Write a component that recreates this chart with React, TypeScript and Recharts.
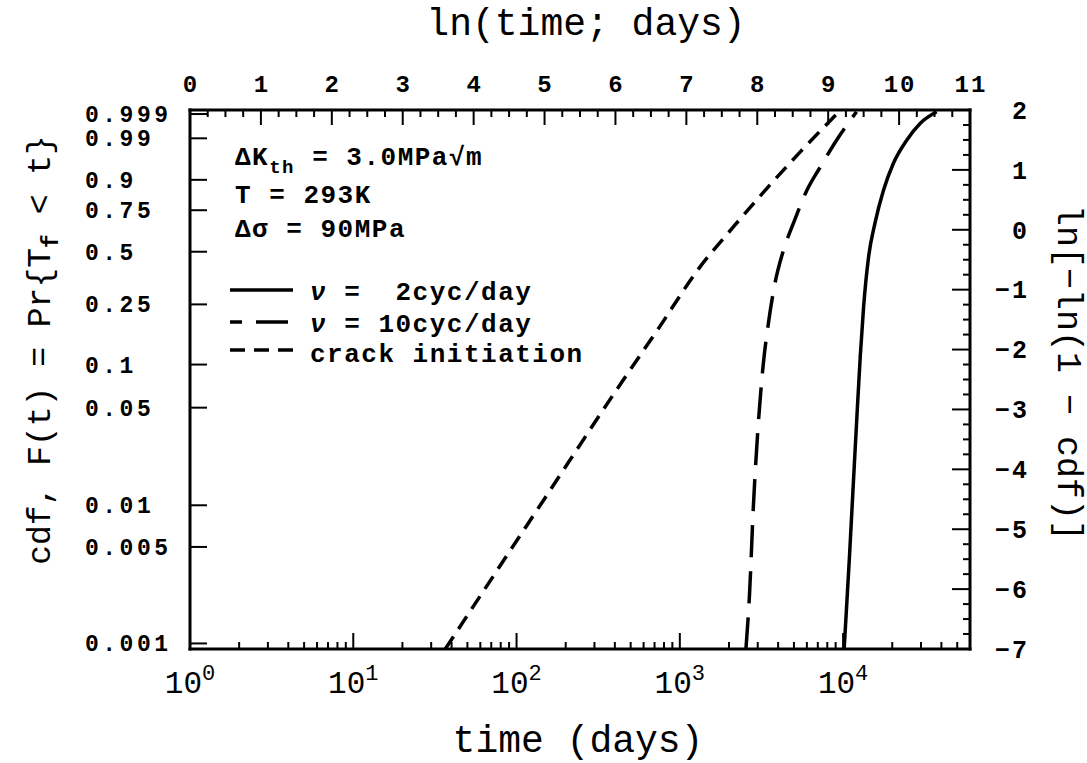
import React from 'react';
import { LineChart, Line, XAxis, YAxis, Legend, Label } from 'recharts';

// ---- data: x = ln(time; days) (top axis), y = ln[-ln(1 - cdf)] (right axis)
const cyc2LnTime = [9.225, 9.257, 9.3, 9.35, 9.4, 9.452, 9.5, 9.57, 9.66, 9.78, 9.92, 10.11, 10.3, 10.53];
const cyc2Weibull = [-7.0, -6.35, -5.46, -4.34, -3.23, -2.12, -1.28, -0.45, 0.11, 0.66, 1.11, 1.5, 1.78, 1.97];

const cyc10LnTime = [7.84, 7.89, 7.945, 8.015, 8.086, 8.157, 8.25, 8.37, 8.51, 8.7, 8.89, 9.12, 9.4];
const cyc10Weibull = [-7.0, -6.1, -4.62, -3.23, -2.23, -1.56, -0.89, -0.34, 0.11, 0.66, 1.05, 1.5, 1.97];

const crackLnTime = [3.6, 4.24, 5.0, 6.0, 6.6, 7.18, 7.65, 8.12, 8.59, 9.15];
const crackWeibull = [-7.0, -5.85, -4.49, -2.7, -1.66, -0.64, 0.03, 0.67, 1.28, 1.97];

const seriesNames = ['2cyc/day', '10cyc/day', 'crack initiation'];

// ---- tick labels
const topMajorTicks = [0, 1, 2, 3, 4, 5, 6, 7, 8, 9, 10, 11];
const rightMajorTicks = [-7, -6, -5, -4, -3, -2, -1, 0, 1, 2];
const bottomDecades = [0, 1, 2, 3, 4];
const cdfTickLabels = ['0.999', '0.99', '0.9', '0.75', '0.5', '0.25', '0.1', '0.05', '0.01', '0.005', '0.001'];

const X_DOMAIN = [0, 11];
const Y_DOMAIN = [-7, 2];

const zip = (xs: number[], ys: number[]) => xs.map((x, i) => ({ x, y: ys[i] }));
const cyc2Data = zip(cyc2LnTime, cyc2Weibull);
const cyc10Data = zip(cyc10LnTime, cyc10Weibull);
const crackData = zip(crackLnTime, crackWeibull);

const key = (v: number) => v.toFixed(5);

// top: majors + quarter minors
const topTicks: number[] = [];
topMajorTicks.forEach((t) => {
  topTicks.push(t);
  if (t < 11) [0.25, 0.5, 0.75].forEach((f) => topTicks.push(t + f));
});
const rightTicks: number[] = [];
rightMajorTicks.forEach((t) => {
  rightTicks.push(t);
  if (t < 2) [0.25, 0.5, 0.75].forEach((f) => rightTicks.push(t + f));
});
// bottom: log decade ticks in ln units
const bottomTicks: number[] = [];
const bottomMajor = new Map<string, number>();
bottomDecades.forEach((k) => {
  for (let m = 1; m <= 9; m++) {
    const v = Math.log(m * Math.pow(10, k));
    if (v <= 11 + 1e-9) {
      bottomTicks.push(v);
      if (m === 1) bottomMajor.set(key(v), k);
    }
  }
});
const leftTicks = cdfTickLabels.map((s) => Math.log(-Math.log(1 - parseFloat(s))));
const leftLabelMap = new Map<string, string>();
cdfTickLabels.forEach((s, i) => leftLabelMap.set(key(leftTicks[i]), s));

const MONO = '"Liberation Mono", "DejaVu Sans Mono", monospace';
const leftTickFont = { fontFamily: MONO, fontWeight: 700 as const, fontSize: 23, letterSpacing: 3.5 };
const topTickFont = { fontFamily: MONO, fontWeight: 700 as const, fontSize: 24, letterSpacing: 2 };
const rightTickFont = { fontFamily: MONO, fontWeight: 700 as const, fontSize: 25, letterSpacing: 2 };
const MAJOR = 17;
const MINOR = 7;

function TopTick(props: any) {
  const { x, y, payload } = props;
  const v = payload.value;
  const major = Math.abs(v - Math.round(v)) < 1e-6;
  return (
    <g>
      <line x1={x} y1={y} x2={x} y2={y + (major ? MAJOR - 2 : MINOR)} stroke="#000" strokeWidth={2} />
      {major && (
        <text x={x + 1} y={y - 18} textAnchor="middle" fill="#000" style={topTickFont}>
          {String(Math.round(v))}
        </text>
      )}
    </g>
  );
}

function BottomTick(props: any) {
  const { x, y, payload } = props;
  const k = bottomMajor.get(key(payload.value));
  const major = k !== undefined;
  return (
    <g>
      <line x1={x} y1={y} x2={x} y2={y - (major ? MAJOR - 1 : MINOR)} stroke="#000" strokeWidth={2} />
      {major && (
        <text x={x} y={y + 44} textAnchor="middle" fill="#000" style={{ fontFamily: MONO, fontSize: 31 }}>
          10
          <tspan dy={-13} style={{ fontSize: 22 }}>{String(k)}</tspan>
        </text>
      )}
    </g>
  );
}

function LeftTick(props: any) {
  const { x, y, payload } = props;
  const label = leftLabelMap.get(key(payload.value)) || '';
  return (
    <g>
      <line x1={x} y1={y} x2={x + MAJOR} y2={y} stroke="#000" strokeWidth={2} />
      <text x={x - 105} y={y} dy="0.35em" textAnchor="start" fill="#000" style={leftTickFont}>
        {label}
      </text>
    </g>
  );
}

function RightTick(props: any) {
  const { x, y, payload } = props;
  const v = payload.value;
  const major = Math.abs(v - Math.round(v)) < 1e-6;
  const txt = v < 0 ? '\u2212' + String(Math.abs(Math.round(v))) : String(Math.round(v));
  return (
    <g>
      <line x1={x} y1={y} x2={x - (major ? MAJOR + 1 : MINOR)} y2={y} stroke="#000" strokeWidth={2} />
      {major && (
        <text x={x + 59} y={y} dy="0.35em" textAnchor="end" fill="#000" style={rightTickFont}>
          {txt}
        </text>
      )}
    </g>
  );
}

const titleFont = { fontFamily: MONO, fontSize: 38 };

function TopTitle(props: any) {
  const vb = props.viewBox || { x: 190, y: 70, width: 780, height: 40 };
  return (
    <text x={vb.x + vb.width / 2 + 6} y={35} textAnchor="middle" fill="#000" style={titleFont}>
      ln(time; days)
    </text>
  );
}
function BottomTitle(props: any) {
  const vb = props.viewBox || { x: 190, y: 649, width: 780, height: 60 };
  return (
    <text x={vb.x + vb.width / 2 - 2} y={752} textAnchor="middle" fill="#000" style={titleFont}>
      time (days)
    </text>
  );
}
function LeftTitle() {
  const cx = 50;
  const cy = 350;
  return (
    <text
      x={cx}
      y={cy}
      textAnchor="middle"
      transform={`rotate(-90, ${cx}, ${cy})`}
      fill="#000"
      style={{ fontFamily: MONO, fontSize: 33, whiteSpace: 'pre' }}
    >
      cdf, F(t) = Pr{'{'}T
      <tspan dy={8} style={{ fontSize: 23, fontWeight: 700 }}>f</tspan>
      <tspan dy={-8}> &lt; t{'}'}</tspan>
    </text>
  );
}
function RightTitle() {
  const cx = 1058;
  const cy = 373;
  return (
    <text
      x={cx}
      y={cy}
      textAnchor="middle"
      transform={`rotate(90, ${cx}, ${cy})`}
      fill="#000"
      style={{ fontFamily: MONO, fontSize: 35, whiteSpace: 'pre' }}
    >
      {'ln[\u2212ln(1 \u2212 cdf)]'}
    </text>
  );
}

const LONG_DASH = '32 14';
const SHORT_DASH = '15 9';
const seriesDashes = [undefined, LONG_DASH, SHORT_DASH];

const LEG_LEFT = 215;
const LEG_TOP = 130;

function LegendBox() {
  const txt = { fontFamily: MONO, fontWeight: 700 as const, fontSize: 26, letterSpacing: 1.5, whiteSpace: 'pre' as const };
  const rows = [
    { lineY: 160, textY: 170, offset: 0, prefix: '=  ' },
    { lineY: 192, textY: 202, offset: 20, prefix: '= ' },
    { lineY: 220, textY: 232, offset: 0, prefix: '' },
  ];
  return (
    <svg width={420} height={260} style={{ overflow: 'visible' }}>
      <text x={20} y={35} fill="#000" style={txt}>
        {'\u0394K'}
        <tspan dy={8} style={{ fontSize: 19 }}>th</tspan>
        <tspan dy={-8}>{' = 3.0MPa\u221Am'}</tspan>
      </text>
      <text x={20} y={73} fill="#000" style={txt}>{'T = 293K'}</text>
      <text x={20} y={107} fill="#000" style={txt}>{'\u0394\u03C3 = 90MPa'}</text>
      {rows.map((r, i) => {
        const name = seriesNames[i];
        const isCyc = i < 2;
        return (
          <g key={i}>
            <line
              x1={15}
              y1={r.lineY}
              x2={78}
              y2={r.lineY}
              stroke="#000"
              strokeWidth={3.5}
              strokeDasharray={seriesDashes[i]}
              strokeDashoffset={r.offset}
            />
            <text x={95} y={r.textY} fill="#000" style={txt}>
              {isCyc ? (
                <>
                  <tspan style={{ fontStyle: 'italic' }}>{'\u03BD'}</tspan>
                  {' ' + r.prefix + name}
                </>
              ) : (
                name
              )}
            </text>
          </g>
        );
      })}
    </svg>
  );
}

const axisLineStyle = { stroke: '#000', strokeWidth: 3, strokeLinecap: 'square' as const };

export default function App() {
  return (
    <div style={{ position: 'absolute', left: 0, top: 0, background: '#fff' }}>
      <LineChart width={1087} height={763} margin={{ top: 70, right: 57, bottom: 54, left: 90 }}>
        <XAxis
          xAxisId="bottom"
          dataKey="x"
          type="number"
          orientation="bottom"
          domain={X_DOMAIN}
          allowDataOverflow
          ticks={bottomTicks}
          interval={0}
          height={60}
          tickSize={0}
          tickMargin={0}
          tickLine={false}
          axisLine={axisLineStyle}
          tick={(p: any) => <BottomTick {...p} />}
        >
          <Label content={(p: any) => <BottomTitle {...p} />} />
        </XAxis>
        <XAxis
          xAxisId="top"
          dataKey="x"
          type="number"
          orientation="top"
          domain={X_DOMAIN}
          allowDataOverflow
          ticks={topTicks}
          interval={0}
          height={40}
          tickSize={0}
          tickMargin={0}
          tickLine={false}
          axisLine={axisLineStyle}
          tick={(p: any) => <TopTick {...p} />}
        >
          <Label content={(p: any) => <TopTitle {...p} />} />
        </XAxis>
        <YAxis
          yAxisId="left"
          type="number"
          orientation="left"
          domain={Y_DOMAIN}
          allowDataOverflow
          ticks={leftTicks}
          interval={0}
          width={100}
          tickSize={0}
          tickMargin={0}
          tickLine={false}
          axisLine={axisLineStyle}
          tick={(p: any) => <LeftTick {...p} />}
        >
          <Label content={() => <LeftTitle />} />
        </YAxis>
        <YAxis
          yAxisId="right"
          type="number"
          orientation="right"
          domain={Y_DOMAIN}
          allowDataOverflow
          ticks={rightTicks}
          interval={0}
          width={60}
          tickSize={0}
          tickMargin={0}
          tickLine={false}
          axisLine={axisLineStyle}
          tick={(p: any) => <RightTick {...p} />}
        >
          <Label content={() => <RightTitle />} />
        </YAxis>
        <Legend
          layout="horizontal"
          verticalAlign="middle"
          align="center"
          wrapperStyle={{ left: LEG_LEFT, top: LEG_TOP, width: 420, height: 260 }}
          content={() => <LegendBox />}
        />
        <Line
          name={seriesNames[0]}
          data={cyc2Data}
          dataKey="y"
          xAxisId="bottom"
          yAxisId="left"
          type="monotone"
          stroke="#000"
          strokeWidth={3.5}
          dot={false}
          activeDot={false}
          isAnimationActive={false}
        />
        <Line
          name={seriesNames[1]}
          data={cyc10Data}
          dataKey="y"
          xAxisId="bottom"
          yAxisId="right"
          type="monotone"
          stroke="#000"
          strokeWidth={3.5}
          strokeDasharray={LONG_DASH}
          dot={false}
          activeDot={false}
          isAnimationActive={false}
        />
        <Line
          name={seriesNames[2]}
          data={crackData}
          dataKey="y"
          xAxisId="top"
          yAxisId="right"
          type="monotone"
          stroke="#000"
          strokeWidth={3.5}
          strokeDasharray={SHORT_DASH}
          dot={false}
          activeDot={false}
          isAnimationActive={false}
        />
      </LineChart>
    </div>
  );
}
